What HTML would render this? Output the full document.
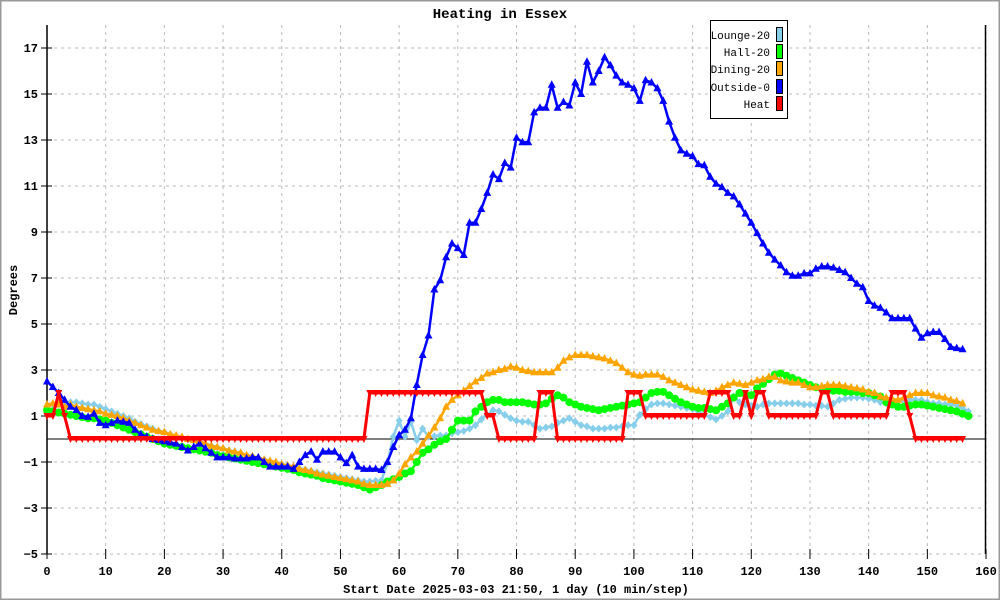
<!DOCTYPE html>
<html><head><meta charset="utf-8"><style>
html,body{margin:0;padding:0;background:#fff}
svg{display:block}
text{font-family:"Liberation Mono","DejaVu Sans Mono",monospace;fill:#000}
</style></head><body>
<svg id="chart" width="1000" height="600" xmlns="http://www.w3.org/2000/svg">
<rect x="0.5" y="0.5" width="999" height="599" fill="#fff" stroke="#999" stroke-width="2"/>
<text x="500" y="18" text-anchor="middle" font-size="14" font-weight="bold">Heating in Essex</text>
<g id="grid"></g>
<g id="axes"></g>
<g id="series"></g>
<text x="516" y="593" text-anchor="middle" font-size="12" font-weight="bold">Start Date 2025-03-03 21:50, 1 day (10 min/step)</text>
<text transform="translate(17,290) rotate(-90)" text-anchor="middle" font-size="12" font-weight="bold">Degrees</text>
<g>
<rect x="710.5" y="20.5" width="77" height="98" fill="#fff" stroke="#000"/>
<g><text x="770" y="39" text-anchor="end" font-size="11">Lounge-20</text><rect x="776.5" y="27.5" width="6" height="14" fill="#87ceeb" stroke="#000"/></g>
<g><text x="770" y="56" text-anchor="end" font-size="11">Hall-20</text><rect x="776.5" y="44.5" width="6" height="14" fill="#00ff00" stroke="#000"/></g>
<g><text x="770" y="73" text-anchor="end" font-size="11">Dining-20</text><rect x="776.5" y="61.5" width="6" height="14" fill="#ffa500" stroke="#000"/></g>
<g><text x="770" y="91" text-anchor="end" font-size="11">Outside-0</text><rect x="776.5" y="79.5" width="6" height="14" fill="#0000ff" stroke="#000"/></g>
<g><text x="770" y="108" text-anchor="end" font-size="11">Heat</text><rect x="776.5" y="96.5" width="6" height="14" fill="#ff0000" stroke="#000"/></g>
</g>
</svg>
<script>
const xTicks = [0,10,20,30,40,50,60,70,80,90,100,110,120,130,140,150,160];
const yTicks = [17,15,13,11,9,7,5,3,1,-1,-3,-5];
const outside = [2.5,2.26,2.0,1.7,1.4,1.26,1.0,0.96,1.1,0.7,0.6,0.7,0.8,0.75,0.7,0.4,0.2,0.1,0.0,-0.05,-0.1,-0.15,-0.2,-0.35,-0.5,-0.35,-0.2,-0.4,-0.6,-0.8,-0.8,-0.8,-0.85,-0.85,-0.85,-0.8,-0.8,-1.0,-1.2,-1.2,-1.2,-1.2,-1.3,-1.0,-0.7,-0.55,-0.9,-0.55,-0.55,-0.55,-0.8,-1.05,-0.7,-1.2,-1.3,-1.3,-1.3,-1.35,-1.0,-0.35,0.17,0.4,0.9,2.35,3.65,4.5,6.5,6.9,7.9,8.5,8.3,8.0,9.4,9.4,10.0,10.7,11.5,11.3,12.0,11.8,13.1,12.9,12.9,14.2,14.4,14.4,15.4,14.4,14.65,14.5,15.5,15.0,16.4,15.5,16.0,16.6,16.25,15.8,15.5,15.4,15.25,14.7,15.6,15.5,15.25,14.7,13.8,13.1,12.55,12.4,12.3,11.95,11.9,11.4,11.1,10.95,10.7,10.55,10.2,9.8,9.4,8.95,8.5,8.1,7.8,7.55,7.25,7.1,7.1,7.2,7.2,7.4,7.5,7.5,7.45,7.35,7.25,7.0,6.75,6.6,6.0,5.8,5.7,5.5,5.25,5.25,5.25,5.25,4.8,4.4,4.6,4.65,4.65,4.35,4.0,3.95,3.9];
const dining = [1.5,1.55,1.5,1.4,1.5,1.4,1.35,1.3,1.25,1.2,1.1,1.05,1.0,0.9,0.8,0.7,0.6,0.5,0.4,0.35,0.3,0.2,0.15,0.1,0.0,-0.05,-0.1,-0.2,-0.3,-0.35,-0.4,-0.5,-0.55,-0.6,-0.7,-0.75,-0.8,-0.9,-0.95,-1.0,-1.1,-1.15,-1.2,-1.3,-1.35,-1.4,-1.5,-1.55,-1.6,-1.65,-1.7,-1.75,-1.8,-1.85,-1.95,-2.0,-2.0,-2.0,-1.95,-1.8,-1.5,-1.1,-0.8,-0.55,-0.2,0.15,0.5,0.9,1.4,1.7,1.9,2.1,2.3,2.5,2.65,2.85,2.9,3.0,3.05,3.15,3.1,3.0,2.95,2.9,2.9,2.9,2.9,3.1,3.4,3.55,3.65,3.65,3.65,3.6,3.55,3.5,3.4,3.3,3.1,2.9,2.8,2.75,2.8,2.8,2.8,2.7,2.55,2.45,2.35,2.25,2.15,2.1,2.05,2.0,2.1,2.25,2.35,2.45,2.4,2.35,2.45,2.55,2.6,2.7,2.7,2.55,2.5,2.45,2.45,2.35,2.25,2.25,2.3,2.35,2.35,2.35,2.3,2.25,2.2,2.15,2.05,2.0,1.85,1.8,1.75,1.7,1.8,1.9,2.0,2.0,2.0,1.9,1.85,1.8,1.7,1.65,1.55];
const lounge = [1.4,1.5,1.55,1.6,1.6,1.6,1.55,1.5,1.5,1.4,1.3,1.2,1.1,1.0,0.9,0.75,0.65,0.55,0.45,0.35,0.3,0.2,0.12,0.05,-0.02,-0.08,-0.15,-0.22,-0.3,-0.36,-0.42,-0.5,-0.56,-0.62,-0.7,-0.76,-0.82,-0.9,-0.96,-1.02,-1.1,-1.15,-1.2,-1.28,-1.33,-1.38,-1.45,-1.5,-1.55,-1.6,-1.65,-1.7,-1.75,-1.8,-1.85,-1.85,-1.82,-1.8,-1.05,0.1,0.8,0.1,0.75,-0.05,0.45,0.1,0.12,0.15,0.15,0.25,0.3,0.35,0.45,0.6,0.85,1.05,1.25,1.2,1.05,0.9,0.8,0.75,0.75,0.6,0.45,0.5,0.55,0.7,0.8,0.9,0.75,0.6,0.55,0.45,0.45,0.45,0.5,0.5,0.55,0.6,0.6,1.05,1.3,1.5,1.55,1.55,1.5,1.45,1.4,1.35,1.3,1.2,1.05,0.95,0.85,1.0,1.2,1.85,1.6,1.5,1.45,1.4,1.5,1.55,1.55,1.55,1.55,1.55,1.55,1.5,1.5,1.45,1.45,1.4,1.55,1.7,1.75,1.8,1.8,1.8,1.75,1.7,1.6,1.55,1.6,1.65,1.65,1.7,1.7,1.7,1.6,1.55,1.55,1.5,1.5,1.45,1.35,1.2];
const hall = [1.25,1.2,1.15,1.1,1.05,1.0,0.95,0.9,0.9,0.85,0.8,0.7,0.6,0.5,0.4,0.3,0.2,0.1,0.0,-0.1,-0.2,-0.25,-0.3,-0.35,-0.4,-0.45,-0.5,-0.55,-0.6,-0.7,-0.75,-0.8,-0.85,-0.9,-0.95,-1.0,-1.05,-1.1,-1.15,-1.2,-1.25,-1.3,-1.35,-1.45,-1.5,-1.55,-1.6,-1.7,-1.75,-1.8,-1.85,-1.9,-1.95,-2.0,-2.1,-2.2,-2.1,-2.0,-1.85,-1.75,-1.65,-1.5,-1.4,-1.0,-0.6,-0.45,-0.25,-0.1,0.0,0.4,0.8,0.8,0.8,1.2,1.4,1.6,1.7,1.7,1.6,1.6,1.6,1.6,1.55,1.5,1.5,1.55,1.75,1.9,1.8,1.6,1.5,1.4,1.35,1.3,1.25,1.3,1.35,1.4,1.45,1.5,1.55,1.6,1.8,2.0,2.05,2.05,1.9,1.75,1.6,1.5,1.4,1.35,1.35,1.3,1.25,1.4,1.55,1.8,2.0,1.95,1.9,2.2,2.4,2.6,2.8,2.85,2.75,2.65,2.55,2.45,2.35,2.25,2.2,2.1,2.1,2.1,2.05,2.05,2.05,2.0,2.0,1.9,1.85,1.6,1.5,1.4,1.4,1.45,1.5,1.5,1.45,1.4,1.35,1.3,1.25,1.2,1.1,1.0];
const heat = [1,1,2,1,0,0,0,0,0,0,0,0,0,0,0,0,0,0,0,0,0,0,0,0,0,0,0,0,0,0,0,0,0,0,0,0,0,0,0,0,0,0,0,0,0,0,0,0,0,0,0,0,0,0,0,2,2,2,2,2,2,2,2,2,2,2,2,2,2,2,2,2,2,2,2,1,1,0,0,0,0,0,0,0,2,2,2,0,0,0,0,0,0,0,0,0,0,0,0,2,2,2,1,1,1,1,1,1,1,1,1,1,1,2,2,2,2,1,1,2,1,2,2,1,1,1,1,1,1,1,1,1,2,2,1,1,1,1,1,1,1,1,1,1,2,2,2,1,0,0,0,0,0,0,0,0,0];

const X0=47, XS=5.869, Y0=439, YS=23;
const xs = v => X0 + v*XS;
const ys = v => Y0 - v*YS;
const NS='http://www.w3.org/2000/svg';
function mk(tag, attrs, parent){const e=document.createElementNS(NS,tag);for(const k in attrs)e.setAttribute(k,attrs[k]);parent.appendChild(e);return e;}
const grid=document.getElementById('grid'), axes=document.getElementById('axes'), ser=document.getElementById('series');

yTicks.forEach(t=>{
  const l=mk('line',{x1:X0,x2:985,y1:ys(t),y2:ys(t),stroke:'#bbb','stroke-dasharray':'3,4'},grid);
  
  
  const tk=mk('line',{x1:X0-6,x2:X0+5,y1:ys(t),y2:ys(t),stroke:'#000'},axes);
  
  
  const tx=mk('text',{x:X0-9,y:ys(t)+4,'text-anchor':'end','font-size':'12','font-weight':'bold'},axes);
  tx.textContent=String(t).replace('-','\u2212');
  
  
});
xTicks.forEach(t=>{
  const l=mk('line',{x1:xs(t),x2:xs(t),y1:25,y2:554,stroke:'#bbb','stroke-dasharray':'3,4'},grid);
  
  
  const tk=mk('line',{x1:xs(t),x2:xs(t),y1:549,y2:559,stroke:'#000'},axes);
  
  
  const tx=mk('text',{x:xs(t),y:575,'text-anchor':'middle','font-size':'12','font-weight':'bold'},axes);
  tx.textContent=t;
  
  
});
const ya=mk('line',{x1:X0,x2:X0,y1:25,y2:554,stroke:'#000','stroke-width':1.5},axes);


const ra=mk('line',{x1:985.5,x2:985.5,y1:25,y2:554,stroke:'#000','stroke-width':1.5},axes);


const zl=mk('line',{x1:X0,x2:985,y1:ys(0),y2:ys(0),stroke:'#000'},axes);



function marker(type,x,y,color,g){
  let e;
  if(type==='tri') e=mk('polygon',{points:`${x},${y-4.5} ${x-4},${y+3} ${x+4},${y+3}`,fill:color},g);
  else if(type==='circ') e=mk('circle',{cx:x,cy:y,r:4,fill:color},g);
  else if(type==='dia') e=mk('polygon',{points:`${x},${y-4} ${x+3.5},${y} ${x},${y+4} ${x-3.5},${y}`,fill:color},g);
  else e=mk('polygon',{points:`${x-3.5},${y-3} ${x+3.5},${y-3} ${x},${y+4}`,fill:color},g);
  return e;
}
function drawSeries(vals,color,type,name,w){
  const g=mk('g',{},ser);
  
  
  const pts=vals.map((v,i)=>xs(i).toFixed(1)+','+ys(v).toFixed(1)).join(' ');
  const pl=mk('polyline',{points:pts,fill:'none',stroke:color,'stroke-width':w,'stroke-linejoin':'round'},g);
  
  
  vals.forEach((v,i)=>{
    const m=marker(type,xs(i),ys(v),color,g);
    
    
  });
}
drawSeries(lounge,'#87ceeb','dia','lounge',2.5);
drawSeries(hall,'#00ff00','circ','hall',2.5);
drawSeries(dining,'#ffa500','tri','dining',2.5);
drawSeries(outside,'#0000ff','tri','outside',2.5);
drawSeries(heat,'#ff0000','inv','heat',3);
</script>
</body></html>
